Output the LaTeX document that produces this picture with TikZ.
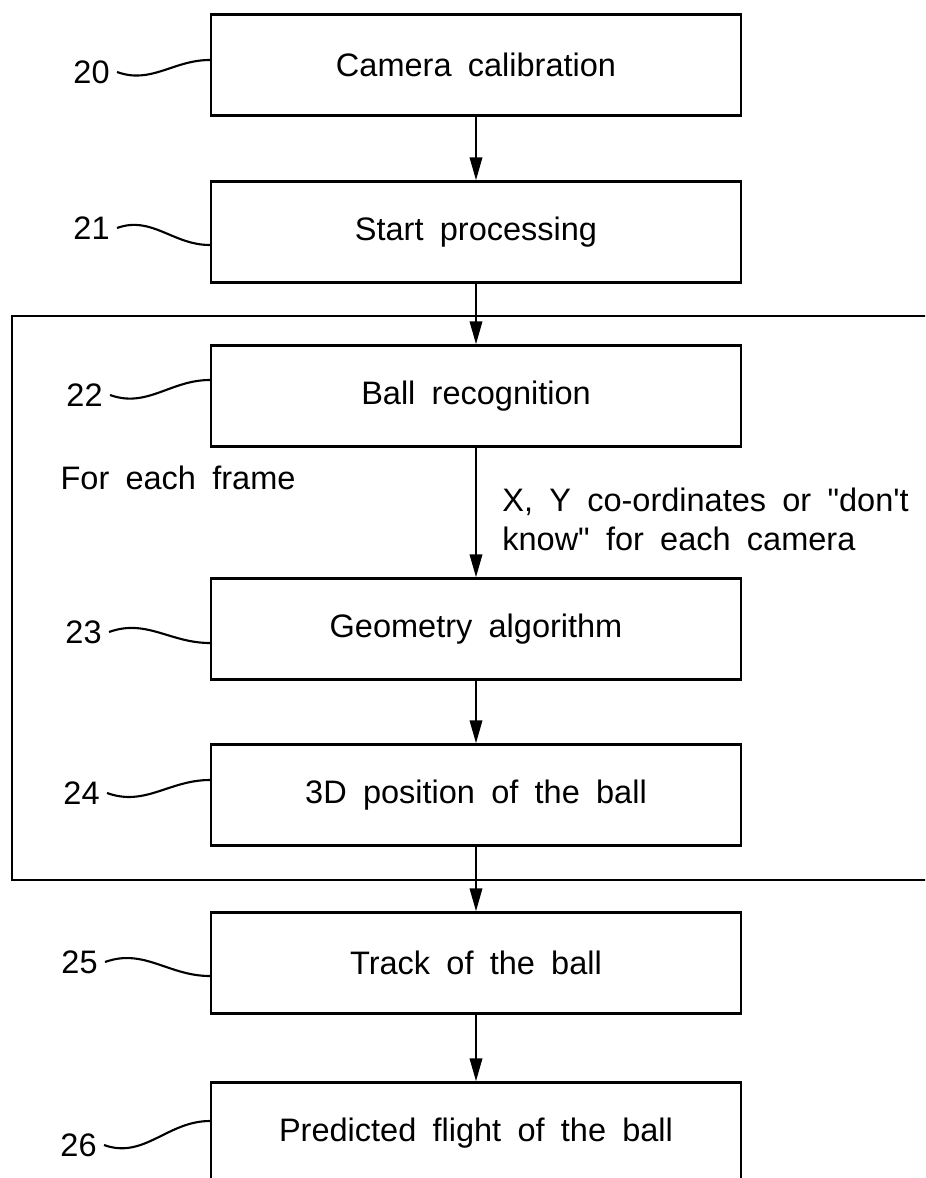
\documentclass[tikz,border=0pt]{standalone}
\usepackage{fontspec}
\setmainfont{Liberation Sans}[Ligatures=TeXOff]
\usetikzlibrary{arrows.meta}

\newcommand{\flowfont}{\fontsize{18.5}{22}\selectfont\spaceskip=0.5em\relax}

\tikzset{
  stepbox/.style={draw, line width=1.4pt, minimum width=10.6cm, minimum height=2.02cm, inner sep=0pt, font=\flowfont},
  loopframe/.style={line width=1.4pt},
  flow/.style={line width=1.2pt, -{Triangle[length=0.46cm, width=0.25cm]}},
  lead/.style={line width=1.2pt},
  num/.style={inner sep=0pt, font=\flowfont},
  note/.style={inner sep=0pt, font=\flowfont}
}

\begin{document}
\begin{tikzpicture}

    % 1. Page size (same proportions as the drawing sheet)
    \useasboundingbox (0,0) rectangle (18.5,-23.56);
    \clip (0,0) rectangle (18.5,-23.56);

    % 2. Process boxes
    \node[stepbox] (calib)  at (9.52,-1.30)  {Camera calibration};
    \node[stepbox] (start)  at (9.52,-4.64)  {Start processing};
    \node[stepbox] (recog)  at (9.52,-7.92)  {Ball recognition};
    \node[stepbox] (geom)   at (9.52,-12.58) {Geometry algorithm};
    \node[stepbox] (pos)    at (9.52,-15.90) {3D position of the ball};
    \node[stepbox] (track)  at (9.52,-19.26) {Track of the ball};
    \node[stepbox] (flight) at (9.52,-22.66) {Predicted flight of the ball};

    % 3. Per-frame loop frame (right side runs off the sheet)
    \coordinate (FTR) at (19,-6.32);
    \coordinate (FTL) at (0.24,-6.32);
    \coordinate (FBL) at (0.24,-17.6);
    \coordinate (FBR) at (19,-17.6);
    \draw[loopframe] (FTR) -- (FTL) -- (FBL) -- (FBR);

    % 4. Flow arrows
    \draw[flow] (calib) -- (start);
    \draw[flow] (start) -- (recog);
    \draw[flow] (recog) -- (geom);
    \draw[flow] (geom) -- (pos);
    \draw[flow] (pos) -- (track);
    \draw[flow] (track) -- (flight);

    % 5. Texts
    \node[note, anchor=base] (each) at (3.56,-9.78) {For each frame};
    \node[note, anchor=north west, align=left] (xy) at (10.04,-9.76)
        {X, Y co-ordinates or "don't\\know" for each camera};

    % 6. Reference numbers with wavy leaders
    \node[num, anchor=east] (n20) at (2.20,-1.44)  {20};
    \node[num, anchor=east] (n21) at (2.20,-4.56)  {21};
    \node[num, anchor=east] (n22) at (2.06,-7.90)  {22};
    \node[num, anchor=east] (n23) at (2.04,-12.64) {23};
    \node[num, anchor=east] (n24) at (2.00,-15.86) {24};
    \node[num, anchor=east] (n25) at (1.96,-19.24) {25};
    \node[num, anchor=east] (n26) at (1.94,-22.90) {26};

    \draw[lead] ([xshift=4pt]n20.east) to[out=-20, in=180] ([yshift=0.10cm]calib.west);
    \draw[lead] ([xshift=4pt]n21.east) to[out=20, in=180]  ([yshift=-0.26cm]start.west);
    \draw[lead] ([xshift=4pt]n22.east) to[out=-20, in=180] ([yshift=0.32cm]recog.west);
    \draw[lead] ([xshift=4pt]n23.east) to[out=20, in=180]  ([yshift=-0.28cm]geom.west);
    \draw[lead] ([xshift=4pt]n24.east) to[out=-20, in=180] ([yshift=0.30cm]pos.west);
    \draw[lead] ([xshift=4pt]n25.east) to[out=20, in=180]  ([yshift=-0.26cm]track.west);
    \draw[lead] ([xshift=4pt]n26.east) to[out=-20, in=180] ([yshift=0.24cm]flight.west);

\end{tikzpicture}
\end{document}
